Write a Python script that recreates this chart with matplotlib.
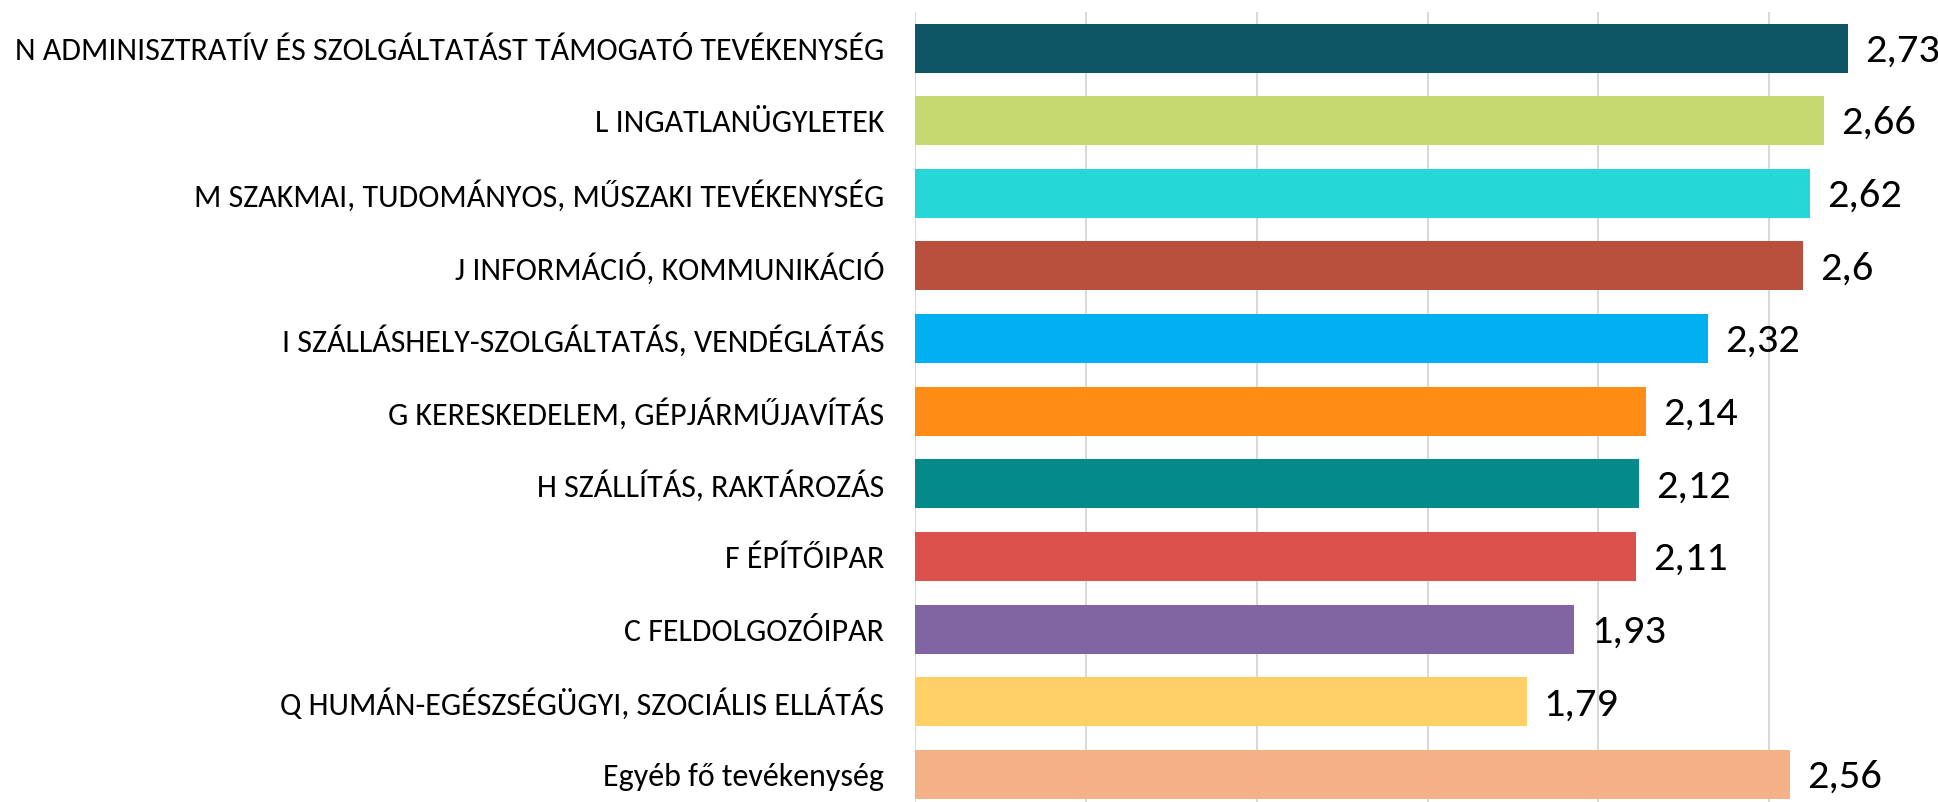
import matplotlib
matplotlib.use("Agg")
import matplotlib.pyplot as plt

# --- Data ---
categories = [
    "N ADMINISZTRATÍV ÉS SZOLGÁLTATÁST TÁMOGATÓ TEVÉKENYSÉG",
    "L INGATLANÜGYLETEK",
    "M SZAKMAI, TUDOMÁNYOS, MŰSZAKI TEVÉKENYSÉG",
    "J INFORMÁCIÓ, KOMMUNIKÁCIÓ",
    "I SZÁLLÁSHELY-SZOLGÁLTATÁS, VENDÉGLÁTÁS",
    "G KERESKEDELEM, GÉPJÁRMŰJAVÍTÁS",
    "H SZÁLLÍTÁS, RAKTÁROZÁS",
    "F ÉPÍTŐIPAR",
    "C FELDOLGOZÓIPAR",
    "Q HUMÁN-EGÉSZSÉGÜGYI, SZOCIÁLIS ELLÁTÁS",
    "Egyéb fő tevékenység",
]
values = [2.73, 2.66, 2.62, 2.6, 2.32, 2.14, 2.12, 2.11, 1.93, 1.79, 2.56]
value_labels = ["2,73", "2,66", "2,62", "2,6", "2,32", "2,14", "2,12", "2,11", "1,93", "1,79", "2,56"]
colors = ["#0D5564", "#C6D971", "#26D7D7", "#B9503E", "#00B0F0", "#FF8C14",
          "#058A8A", "#DC514B", "#8065A2", "#FFD066", "#F3B185"]
grid_ticks = [0, 0.5, 1.0, 1.5, 2.0, 2.5, 3.0]

plt.rcParams["font.family"] = ["Carlito", "DejaVu Sans"]

W, H = 1938, 802
fig = plt.figure(figsize=(W / 100, H / 100), dpi=100)
# plot area in pixels: x 915..1940, y 11.7..810.8 from top
ax = fig.add_axes([915 / W, (H - 810.8) / H, 1025 / W, (810.8 - 11.7) / H])

pos = list(range(len(categories)))
ax.barh(pos, values, height=0.675, color=colors, zorder=2)

for p, v, lab in zip(pos, values, value_labels):
    ax.annotate(lab, (v, p), xytext=(17, -13.5), textcoords="offset pixels",
                va="baseline", ha="left", fontsize=30.5, color="black")

ax.set_xlim(0, 3)
ax.set_ylim(len(categories) - 0.5, -0.5)
ax.set_xticks(grid_ticks)
ax.xaxis.grid(True, color="#D9D9D9", linewidth=1.45, zorder=0)
ax.set_axisbelow(True)
ax.tick_params(axis="x", bottom=False, labelbottom=False)
ax.tick_params(axis="y", length=0, pad=22, labelsize=23)
ax.set_yticks(pos)
ax.set_yticklabels(categories)
for s in ax.spines.values():
    s.set_visible(False)

fig.savefig("out.png", dpi=100)
